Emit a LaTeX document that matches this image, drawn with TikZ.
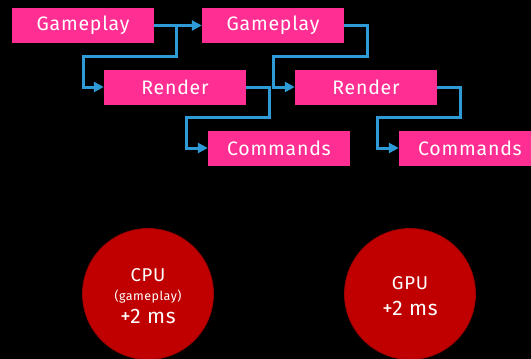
\documentclass[tikz,border=0pt]{standalone}
\usepackage{fontspec}
\setmainfont{Fira Sans}[LetterSpace=4]
\usetikzlibrary{arrows.meta}
\definecolor{stagepink}{HTML}{FF2E93}
\definecolor{flowblue}{HTML}{2E9BD6}
\definecolor{unitred}{HTML}{C00000}
\definecolor{unitedge}{HTML}{9A0000}
\tikzset{
  stagebox/.style={fill=stagepink, text=white, minimum width=142pt, minimum height=35pt,
    inner sep=0pt, font=\fontsize{19.5}{22}\selectfont, anchor=center},
  flow/.style={draw=flowblue, line width=3pt, -{Triangle[length=10pt,width=10pt]}},
  unit/.style={circle, fill=unitred, draw=unitedge, line width=0.8pt, minimum size=131pt,
    inner sep=0pt},
  unittext/.style={text=white, inner sep=0pt, anchor=base}
}
\begin{document}
\begin{tikzpicture}[x=1pt,y=-1pt]
  \fill[black] (0,0) rectangle (531,359);
  \useasboundingbox (0,0) rectangle (531,359);
  \begin{scope}
  \clip (0,0) rectangle (531,359);

  % pipeline stages
  \node[stagebox] (g1) at (83,25.5) {Gameplay};
  \node[stagebox] (g2) at (273,25.5) {Gameplay};
  \node[stagebox] (r1) at (175,87) {Render};
  \node[stagebox] (r2) at (366,87) {Render};
  \node[stagebox] (c1) at (279,148) {Commands};
  \node[stagebox] (c2) at (470,148) {Commands};

  % frame-to-frame and stage-to-stage links
  \draw[flow] (g1.east) -- (g2.west);
  \coordinate (b1) at (176,25.5);
  \draw[flow] (b1) -- (176,56) -| (83,87) -- (r1.west);
  \draw[flow] (r1.east) -| (269,117) -| (186,148) -- (c1.west);
  \draw[flow] (g2.east) -| (367,56) -| (273,87) -- (r2.west);
  \draw[flow] (r2.east) -| (460,117) -| (377,148) -- (c2.west);

  % processor cost markers
  \node[unit] (cpu) at (148,294) {};
  \node[unit] (gpu) at (410,294) {};
  \node[unittext, font=\fontsize{18.5}{20}\selectfont] (cpuname) at (148,281) {CPU};
  \node[unittext, font=\fontsize{12.5}{14}\selectfont] (cpunote) at (148,300) {(gameplay)};
  \node[unittext, font=\fontsize{21}{24}\selectfont] (cpucost) at (148,323.5) {+2 ms};
  \node[unittext, font=\fontsize{18.5}{20}\selectfont] (gpuname) at (410,289) {GPU};
  \node[unittext, font=\fontsize{21}{24}\selectfont] (gpucost) at (410,315.5) {+2 ms};
  \end{scope}
\end{tikzpicture}
\end{document}
